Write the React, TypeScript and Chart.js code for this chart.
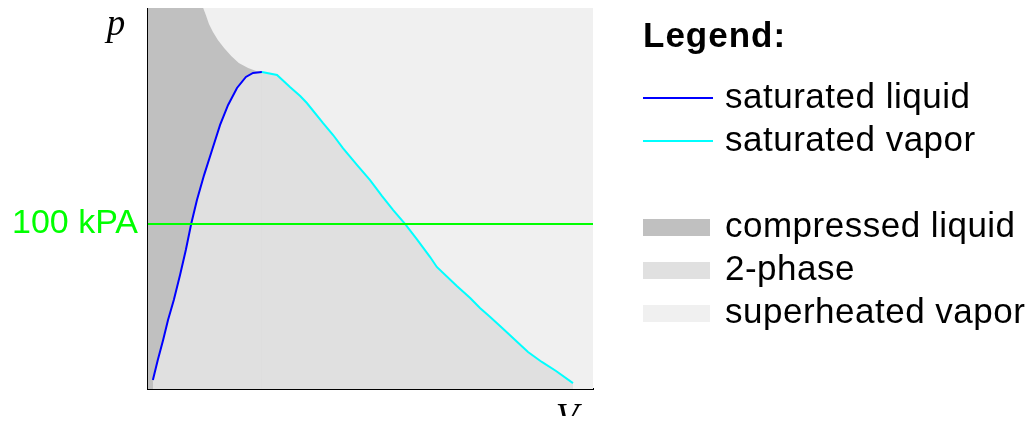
import React, { useEffect, useRef } from 'react';
import { Chart, registerables } from 'chart.js';

Chart.register(...registerables);

// Axis ranges: specific volume (relative units) and pressure (kPa)
const V_MIN = 0;
const V_MAX = 100;
const P_MIN = 0;
const P_MAX = 231;

// Saturated liquid line (left branch of the dome)
const SAT_LIQUID_V = [1.1, 2.2, 3.4, 4.5, 5.8, 7.2, 8.5, 9.7, 11.0, 12.6, 14.4, 16.2, 18.0, 20.0, 22.0, 23.6, 25.6];
const SAT_LIQUID_P = [5.5, 17.6, 29.7, 41.8, 54.0, 69.1, 84.3, 100.0, 114.6, 129.7, 144.9, 160.1, 172.2, 182.5, 189.2, 191.6, 192.2];

// Saturated vapor line (right branch of the dome)
const SAT_VAPOR_V = [25.6, 29.0, 31.9, 34.2, 35.7, 39.3, 41.6, 43.8, 47.0, 49.9, 52.6, 55.1, 57.8, 60.4, 63.4, 64.9, 69.4, 72.4, 74.6, 76.9, 79.6, 82.5, 85.4, 88.5, 91.7, 95.5];
const SAT_VAPOR_P = [192.2, 190.4, 183.1, 177.6, 173.4, 161.3, 154.0, 146.1, 135.8, 126.7, 117.0, 108.5, 100.0, 90.9, 80.0, 74.0, 62.4, 55.2, 49.1, 43.7, 37.0, 29.7, 22.4, 16.4, 10.9, 3.6];

// Edge of the compressed-liquid region above the critical point
const LIQUID_EDGE_V = [0, 12.4, 13.0, 13.7, 14.6, 15.7, 17.1, 18.7, 20.4, 22.5, 24.3, 25.6];
const LIQUID_EDGE_P = [231, 231, 226.8, 221.3, 216.4, 211.6, 206.7, 201.9, 197.7, 194.6, 192.8, 192.2];

// Reference isobar
const ISOBAR_KPA = 100;
const ISOBAR_LABEL = '100 kPA';

// Legend entries, in display order
const LEGEND_LABELS = ['saturated liquid', 'saturated vapor', 'compressed liquid', '2-phase', 'superheated vapor'];

const COLOR_LIQUID = '#0000ff';
const COLOR_VAPOR = '#00ffff';
const COLOR_ISOBAR = '#00ff00';
const COLOR_COMPRESSED = '#c0c0c0';
const COLOR_TWO_PHASE = '#e0e0e0';
const COLOR_SUPERHEATED = '#f0f0f0';

const SANS = '"Liberation Sans", Arial, sans-serif';
const SERIF = '"Liberation Serif", "Times New Roman", serif';

const zip = (xs: number[], ys: number[]) => xs.map((x, i) => ({ x, y: ys[i] }));

const LEGEND_SWATCHES = [
  { kind: 'line', color: COLOR_LIQUID },
  { kind: 'line', color: COLOR_VAPOR },
  { kind: 'box', color: COLOR_COMPRESSED },
  { kind: 'box', color: COLOR_TWO_PHASE },
  { kind: 'box', color: COLOR_SUPERHEATED },
];

// Axis symbols and the legend panel to the right of the diagram
const diagramText = {
  id: 'diagramText',
  afterDraw(chart: any) {
    const ctx: CanvasRenderingContext2D = chart.ctx;
    const { left, top, right, bottom } = chart.chartArea;
    ctx.save();

    ctx.fillStyle = '#000';
    ctx.font = `italic 37px ${SERIF}`;
    ctx.textAlign = 'center';
    ctx.textBaseline = 'alphabetic';
    ctx.fillText('p', left - 32, top + 27);
    ctx.fillText('V', right - 26, bottom + 40);

    const x0 = right + 50;
    ctx.textAlign = 'left';
    ctx.font = `bold 35px ${SANS}`;
    (ctx as any).letterSpacing = '1px';
    ctx.fillText('Legend:', x0, top + 39);

    ctx.font = `35px ${SANS}`;
    (ctx as any).letterSpacing = '0.5px';
    LEGEND_LABELS.forEach((label, i) => {
      const row = i < 2 ? i : i + 1;
      const cy = top + 90 + row * 43;
      const sw = LEGEND_SWATCHES[i];
      if (sw.kind === 'line') {
        ctx.strokeStyle = sw.color;
        ctx.lineWidth = 2;
        ctx.beginPath();
        ctx.moveTo(x0, cy);
        ctx.lineTo(x0 + 70, cy);
        ctx.stroke();
      } else {
        ctx.fillStyle = sw.color;
        ctx.fillRect(x0, cy - 8, 67, 17);
      }
      ctx.fillStyle = '#000';
      ctx.fillText(label, x0 + 82, cy + 9.5);
    });
    ctx.restore();
  },
};

export default function App() {
  const ref = useRef<HTMLCanvasElement>(null);

  useEffect(() => {
    const chart = new Chart(ref.current as HTMLCanvasElement, {
      type: 'line',
      data: {
        datasets: [
          {
            label: LEGEND_LABELS[0],
            data: zip(SAT_LIQUID_V, SAT_LIQUID_P),
            borderColor: COLOR_LIQUID,
            borderWidth: 2,
            backgroundColor: COLOR_TWO_PHASE,
            fill: 'origin',
            order: 2,
          },
          {
            label: LEGEND_LABELS[1],
            data: zip(SAT_VAPOR_V, SAT_VAPOR_P),
            borderColor: COLOR_VAPOR,
            borderWidth: 2,
            backgroundColor: COLOR_TWO_PHASE,
            fill: 'origin',
            order: 1,
          },
          {
            label: LEGEND_LABELS[2],
            data: zip(LIQUID_EDGE_V, LIQUID_EDGE_P),
            borderColor: 'rgba(0,0,0,0)',
            borderWidth: 0,
            backgroundColor: COLOR_COMPRESSED,
            fill: 'origin',
            order: 3,
          },
          {
            label: LEGEND_LABELS[4],
            data: [
              { x: V_MIN, y: P_MAX },
              { x: V_MAX, y: P_MAX },
            ],
            borderColor: 'rgba(0,0,0,0)',
            borderWidth: 0,
            backgroundColor: COLOR_SUPERHEATED,
            fill: 'origin',
            order: 4,
          },
          {
            label: ISOBAR_LABEL,
            data: [
              { x: V_MIN, y: ISOBAR_KPA },
              { x: V_MAX, y: ISOBAR_KPA },
            ],
            borderColor: COLOR_ISOBAR,
            borderWidth: 2,
            fill: false,
            order: 0,
          },
        ],
      },
      options: {
        responsive: false,
        animation: false,
        devicePixelRatio: 1,
        events: [],
        layout: { padding: { left: 0, top: 0, right: 440, bottom: 0 } },
        elements: { point: { radius: 0 }, line: { tension: 0 } },
        plugins: { legend: { display: false }, tooltip: { enabled: false } },
        scales: {
          x: {
            type: 'linear',
            min: V_MIN,
            max: V_MAX,
            z: 1,
            grid: { display: false, drawTicks: false },
            ticks: { display: false },
            border: { display: true, color: '#000', width: 2 },
            afterFit: (s: any) => {
              s.height = 35;
              s.paddingLeft = 0;
              s.paddingRight = 0;
            },
          },
          y: {
            type: 'linear',
            min: P_MIN,
            max: P_MAX,
            z: 1,
            grid: { display: false, drawTicks: false },
            border: { display: true, color: '#000', width: 2 },
            afterBuildTicks: (s: any) => {
              s.ticks = [{ value: ISOBAR_KPA }];
            },
            ticks: {
              autoSkip: false,
              padding: 10,
              color: COLOR_ISOBAR,
              font: { family: SANS, size: 34 },
              callback: (v: any) => (v === ISOBAR_KPA ? ISOBAR_LABEL : ''),
            },
            afterFit: (s: any) => {
              s.width = 140;
              s.paddingTop = 0;
              s.paddingBottom = 0;
            },
          },
        },
      },
      plugins: [diagramText],
    } as any);
    return () => chart.destroy();
  }, []);

  return (
    <div style={{ position: 'relative', width: 1025, height: 408 }}>
      <canvas ref={ref} width={1025} height={416} style={{ position: 'absolute', left: 0, top: 0 }} />
    </div>
  );
}
